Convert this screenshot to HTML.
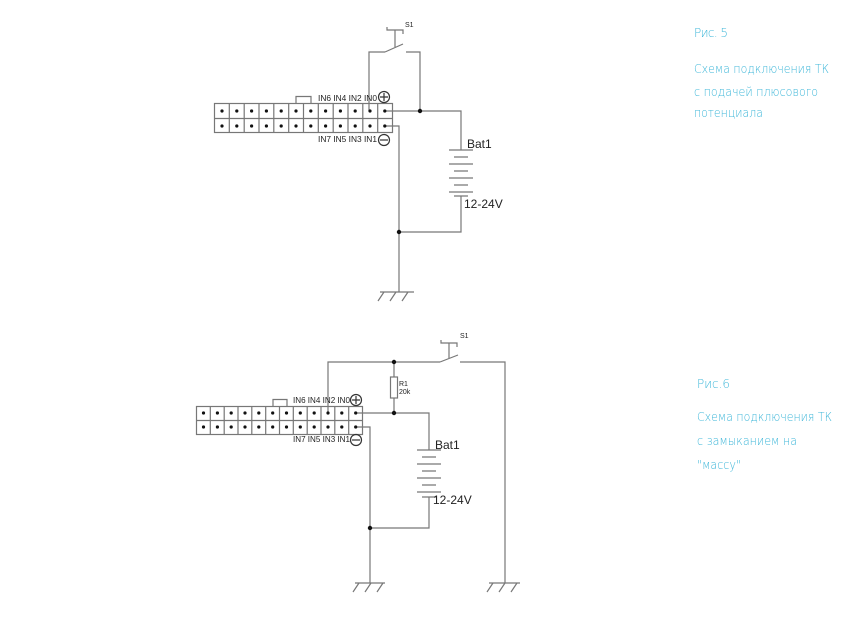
<!DOCTYPE html>
<html><head><meta charset="utf-8"><style>
body{margin:0;background:#fff;width:847px;height:635px;overflow:hidden}
svg{display:block}
.t{font-family:"Liberation Sans",sans-serif;fill:#222}
.c{font-family:"DejaVu Sans","Liberation Sans",sans-serif;font-weight:200;fill:#3fb7d9;font-size:12px}
</style></head><body>
<svg width="847" height="635" viewBox="0 0 847 635" xmlns="http://www.w3.org/2000/svg">
<g fill="none" stroke="#777" stroke-width="1.2">
<rect x="214.5" y="103.5" width="178" height="29"/>
<line x1="214.5" y1="118.5" x2="392.5" y2="118.5"/>
<path d="M229.3 103.5v29M244.2 103.5v29M259 103.5v29M273.8 103.5v29M288.7 103.5v29M303.5 103.5v29M318.3 103.5v29M333.2 103.5v29M348 103.5v29M362.8 103.5v29M377.7 103.5v29"/>
<path d="M296 103.5V96.5H311V103.5"/>
<path d="M369 111V52H385M385 52L403 44M406 52H420V111M384 111H461V150M384 126H399V292M399 232H461V196"/>
<path d="M387 27V30H403V34M395 30V47"/>
<path d="M380 292H414M384 292l-6 9M396 292l-6 9M408 292l-6 9"/>
<path d="M449 150H473M454 157H468M449 164H473M454 171H468M449 178H473M454 185H468M449 192H473M454 196H468"/>
<rect x="196.5" y="406.5" width="166" height="28"/>
<line x1="196.5" y1="420.5" x2="362.5" y2="420.5"/>
<path d="M210.3 406.5v28M224.2 406.5v28M238 406.5v28M251.8 406.5v28M265.7 406.5v28M279.5 406.5v28M293.3 406.5v28M307.2 406.5v28M321 406.5v28M334.8 406.5v28M348.7 406.5v28"/>
<path d="M273 406.5V399.5H287V406.5"/>
<path d="M328 413V362H440M440 362L458 355M460 362H505V583M394 362V377M394 398V413M356 413H429V450M356 427H370V583M370 528H429V497"/>
<rect x="390.5" y="377" width="7" height="21"/>
<path d="M441 340V343H457V347M449 343V358"/>
<path d="M417 450H441M422 457H436M417 464H441M422 471H436M417 478H441M422 485H436M417 492H441M422 497H436"/>
<path d="M355 583H385M359 583l-6 9M371 583l-6 9M383 583l-6 9"/>
<path d="M489 583H520M493 583l-6 9M505 583l-6 9M517 583l-6 9"/>
<circle cx="384" cy="97" r="5.5" stroke="#333"/><path d="M380 97h8M384 93v8" stroke="#333"/>
<circle cx="384" cy="140" r="5.5" stroke="#333"/><path d="M380 140h8" stroke="#333"/>
<circle cx="356" cy="400" r="5.5" stroke="#333"/><path d="M352 400h8M356 396v8" stroke="#333"/>
<circle cx="356" cy="440" r="5.5" stroke="#333"/><path d="M352 440h8" stroke="#333"/>
</g>
<g fill="#111">
<circle cx="222" cy="111" r="1.6"/><circle cx="236.8" cy="111" r="1.6"/><circle cx="251.6" cy="111" r="1.6"/><circle cx="266.4" cy="111" r="1.6"/><circle cx="281.2" cy="111" r="1.6"/><circle cx="296" cy="111" r="1.6"/><circle cx="310.8" cy="111" r="1.6"/><circle cx="325.6" cy="111" r="1.6"/><circle cx="340.4" cy="111" r="1.6"/><circle cx="355.2" cy="111" r="1.6"/><circle cx="370" cy="111" r="1.6"/><circle cx="384.8" cy="111" r="1.6"/>
<circle cx="222" cy="126" r="1.6"/><circle cx="236.8" cy="126" r="1.6"/><circle cx="251.6" cy="126" r="1.6"/><circle cx="266.4" cy="126" r="1.6"/><circle cx="281.2" cy="126" r="1.6"/><circle cx="296" cy="126" r="1.6"/><circle cx="310.8" cy="126" r="1.6"/><circle cx="325.6" cy="126" r="1.6"/><circle cx="340.4" cy="126" r="1.6"/><circle cx="355.2" cy="126" r="1.6"/><circle cx="370" cy="126" r="1.6"/><circle cx="384.8" cy="126" r="1.6"/>
<circle cx="420" cy="111" r="2.2"/><circle cx="399" cy="232" r="2.2"/>
<circle cx="203.5" cy="413" r="1.6"/><circle cx="217.4" cy="413" r="1.6"/><circle cx="231.2" cy="413" r="1.6"/><circle cx="245" cy="413" r="1.6"/><circle cx="258.8" cy="413" r="1.6"/><circle cx="272.7" cy="413" r="1.6"/><circle cx="286.5" cy="413" r="1.6"/><circle cx="300.3" cy="413" r="1.6"/><circle cx="314.2" cy="413" r="1.6"/><circle cx="328" cy="413" r="1.6"/><circle cx="341.8" cy="413" r="1.6"/><circle cx="355.7" cy="413" r="1.6"/>
<circle cx="203.5" cy="427" r="1.6"/><circle cx="217.4" cy="427" r="1.6"/><circle cx="231.2" cy="427" r="1.6"/><circle cx="245" cy="427" r="1.6"/><circle cx="258.8" cy="427" r="1.6"/><circle cx="272.7" cy="427" r="1.6"/><circle cx="286.5" cy="427" r="1.6"/><circle cx="300.3" cy="427" r="1.6"/><circle cx="314.2" cy="427" r="1.6"/><circle cx="328" cy="427" r="1.6"/><circle cx="341.8" cy="427" r="1.6"/><circle cx="355.7" cy="427" r="1.6"/>
<circle cx="394" cy="362" r="2.2"/><circle cx="394" cy="413" r="2.2"/><circle cx="370" cy="528" r="2.2"/>
</g>
<text class="t" x="318" y="101" font-size="8.5" textLength="59" lengthAdjust="spacingAndGlyphs">IN6 IN4 IN2 IN0</text>
<text class="t" x="318" y="142" font-size="8.5" textLength="59" lengthAdjust="spacingAndGlyphs">IN7 IN5 IN3 IN1</text>
<text class="t" x="405" y="27" font-size="7">S1</text>
<text class="t" x="467" y="148" font-size="12">Bat1</text>
<text class="t" x="464" y="208" font-size="12">12-24V</text>
<text class="t" x="293" y="403" font-size="8.5" textLength="57" lengthAdjust="spacingAndGlyphs">IN6 IN4 IN2 IN0</text>
<text class="t" x="293" y="442" font-size="8.5" textLength="57" lengthAdjust="spacingAndGlyphs">IN7 IN5 IN3 IN1</text>
<text class="t" x="460" y="338" font-size="7">S1</text>
<text class="t" x="399" y="386" font-size="7">R1</text>
<text class="t" x="399" y="394" font-size="7">20k</text>
<text class="t" x="435" y="449" font-size="12">Bat1</text>
<text class="t" x="433" y="504" font-size="12">12-24V</text>
<text class="c" x="694" y="37" textLength="34">Рис. 5</text>
<text class="c" x="694" y="73" textLength="135" lengthAdjust="spacingAndGlyphs">Схема подключения ТК</text>
<text class="c" x="694" y="96" textLength="124" lengthAdjust="spacingAndGlyphs">с подачей плюсового</text>
<text class="c" x="694" y="117" textLength="69" lengthAdjust="spacingAndGlyphs">потенциала</text>
<text class="c" x="697" y="388" textLength="33" lengthAdjust="spacingAndGlyphs">Рис.6</text>
<text class="c" x="697" y="421" textLength="135" lengthAdjust="spacingAndGlyphs">Схема подключения ТК</text>
<text class="c" x="697" y="445" textLength="100" lengthAdjust="spacingAndGlyphs">с замыканием на</text>
<text class="c" x="697" y="469" textLength="44" lengthAdjust="spacingAndGlyphs">"массу"</text>
</svg>
</body></html>
